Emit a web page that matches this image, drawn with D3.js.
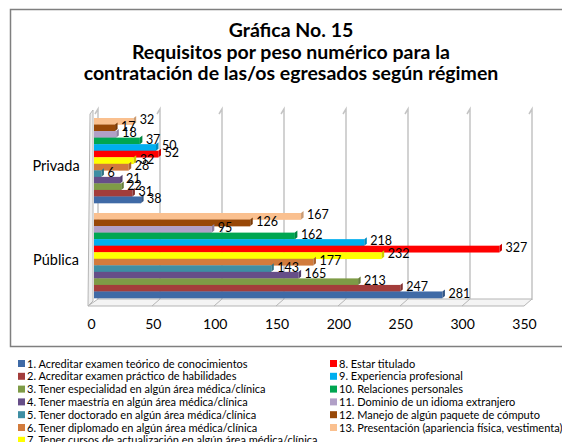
<!DOCTYPE html>
<html>
<head>
<meta charset="utf-8">
<script src="https://cdn.jsdelivr.net/npm/d3@7.9.0/dist/d3.min.js"></script>
<style>
  body { margin: 0; background: #fff; }
  svg { display: block; font-family: Lato, "Open Sans", sans-serif; }
</style>
</head>
<body>
<svg id="chart" width="562" height="442"></svg>
<script>
// chart data
const categories = ["Privada", "Pública"];
const seriesNames = [
  "1. Acreditar examen teórico de conocimientos",
  "2. Acreditar examen práctico de habilidades",
  "3. Tener especialidad en algún área médica/clínica",
  "4. Tener maestría en algún área médica/clínica",
  "5. Tener doctorado en algún área médica/clínica",
  "6. Tener diplomado en algún área médica/clínica",
  "7. Tener cursos de actualización en algún área médica/clínica",
  "8. Estar titulado",
  "9. Experiencia profesional",
  "10. Relaciones personales",
  "11. Dominio de un idioma extranjero",
  "12. Manejo de algún paquete de cómputo",
  "13. Presentación (apariencia física, vestimenta)"
];
const privadaValues = [38, 31, 22, 21, 6, 28, 32, 52, 50, 37, 18, 17, 32];
const publicaValues = [281, 247, 213, 165, 143, 177, 232, 327, 218, 162, 95, 126, 167];
const seriesColors = ["#3f6aa6", "#a33d3b", "#7e9b46", "#664e88", "#3e8ea3", "#d27b3c",
  "#ffff00", "#ff0000", "#00aeef", "#00a651", "#b1a0c7", "#984807", "#fac08f"];
const xTicks = [0, 50, 100, 150, 200, 250, 300, 350];
const titleLines = ["Gráfica No. 15", "Requisitos por peso numérico para la",
  "contratación de las/os egresados según régimen"];

const svg = d3.select("#chart");

// outer frame
svg.append("rect")
  .attr("x", 10.5).attr("y", 9.5)
  .attr("width", 600).attr("height", 337)
  .attr("fill", "none").attr("stroke", "#7f7f7f").attr("stroke-width", 1.5);

// title
svg.append("g").selectAll("text")
  .data(titleLines)
  .join("text")
  .attr("x", 291)
  .attr("y", (d, i) => 37 + i * 21.5)
  .attr("text-anchor", "middle")
  .attr("font-weight", "bold")
  .attr("font-size", 19.5)
  .attr("fill", "#000")
  .text(d => d);

// scales
const x = d3.scaleLinear().domain([0, 350]).range([91, 524]);     // axis labels (front)
const xBar = d3.scaleLinear().domain([0, 350]).range([94, 528]);  // bars
const depth = 4;

const y = d3.scaleBand().domain(categories).range([118, 298]).paddingInner(0.105);
const ySeries = d3.scaleBand()
  .domain(d3.range(seriesNames.length).reverse())
  .range([0, y.bandwidth()]);

// back wall gridlines
const grid = svg.append("g");
grid.selectAll("path")
  .data(xTicks)
  .join("path")
  .attr("d", d => {
    const gx = xBar(d) + depth;
    return `M${gx - 3},${114} L${gx},${109} L${gx},${300}`;
  })
  .attr("fill", "none")
  .attr("stroke", "#c4c4c4")
  .attr("stroke-width", 1.5);

// floor
const x0 = xBar(0), x1 = xBar(350);
svg.append("path")
  .attr("d", `M${x0 + depth},299 L${x1 + depth},299 L${x1 - 4},306 L${x0 - 6},306 Z`)
  .attr("fill", "#f4f4f4")
  .attr("stroke", "#b5b5b5")
  .attr("stroke-width", 1);
svg.append("g").selectAll("line")
  .data(xTicks.slice(1, -1))
  .join("line")
  .attr("x1", d => xBar(d) + depth).attr("y1", 299)
  .attr("x2", d => xBar(d) - 4).attr("y2", 306)
  .attr("stroke", "#b5b5b5");

// left wall
svg.append("path")
  .attr("d", `M${x0 - 4},114 L${x0 - 1},110 L${x0 - 1},301 L${x0 - 6},306 Z`)
  .attr("fill", "#efefef")
  .attr("stroke", "#b5b5b5");

// bars
const groups = [privadaValues, publicaValues];
const barData = [];
groups.forEach((vals, gi) => {
  vals.forEach((v, si) => barData.push({ cat: categories[gi], s: si, v }));
});

const bars = svg.append("g");
// draw top bars first so lower caps sit over them
barData.sort((a, b) => (categories.indexOf(a.cat) - categories.indexOf(b.cat)) || (b.s - a.s));

bars.selectAll("g.bar")
  .data(barData)
  .join("g")
  .attr("class", "bar")
  .each(function (d) {
    const g = d3.select(this);
    const by = y(d.cat) + ySeries(d.s);
    const h = ySeries.bandwidth();
    const c = d3.color(seriesColors[d.s]);
    g.append("rect")
      .attr("x", xBar(0)).attr("y", by)
      .attr("width", xBar(d.v) - xBar(0))
      .attr("height", h + 0.3)
      .attr("fill", c);
    // end cap
    const ex = xBar(d.v);
    g.append("path")
      .attr("d", `M${ex},${by} L${ex + 2.5},${by - 2} L${ex + 2.5},${by + h - 2} L${ex},${by + h} Z`)
      .attr("fill", c.darker(0.6));
  });

// data labels
svg.append("g").selectAll("text")
  .data(barData)
  .join("text")
  .attr("x", d => xBar(d.v) + 6)
  .attr("y", d => y(d.cat) + ySeries(d.s) + ySeries.bandwidth() / 2 + 3)
  .attr("font-size", 12.5)
  .attr("fill", "#000")
  .text(d => d.v);

// category labels
svg.append("g").selectAll("text")
  .data(categories)
  .join("text")
  .attr("x", 56)
  .attr("y", d => y(d) + y.bandwidth() / 2 + 10)
  .attr("text-anchor", "middle")
  .attr("font-size", 14.5)
  .attr("fill", "#000")
  .text(d => d);

// x axis
const axis = svg.append("g")
  .attr("transform", "translate(0,319)")
  .call(d3.axisBottom(x).tickValues(xTicks).tickSize(0).tickPadding(0));
axis.select(".domain").remove();
axis.selectAll("text")
  .attr("font-family", "Lato, sans-serif")
  .attr("font-size", 14)
  .attr("fill", "#000")
  .attr("dy", "0.71em");

// legend
const legend = svg.append("g").attr("font-size", 11);
const legendItems = seriesNames.map((name, i) => ({
  name, i,
  col: i < 7 ? 0 : 1,
  row: i < 7 ? i : i - 7
}));
const legendX = [18, 330];
legend.selectAll("rect")
  .data(legendItems)
  .join("rect")
  .attr("x", d => legendX[d.col])
  .attr("y", d => 360 + d.row * 12.8)
  .attr("width", 7).attr("height", 7)
  .attr("fill", d => seriesColors[d.i]);
legend.selectAll("text")
  .data(legendItems)
  .join("text")
  .attr("x", d => legendX[d.col] + 9)
  .attr("y", d => 367.5 + d.row * 12.8)
  .attr("fill", "#000")
  .text(d => d.name);
</script>
</body>
</html>
